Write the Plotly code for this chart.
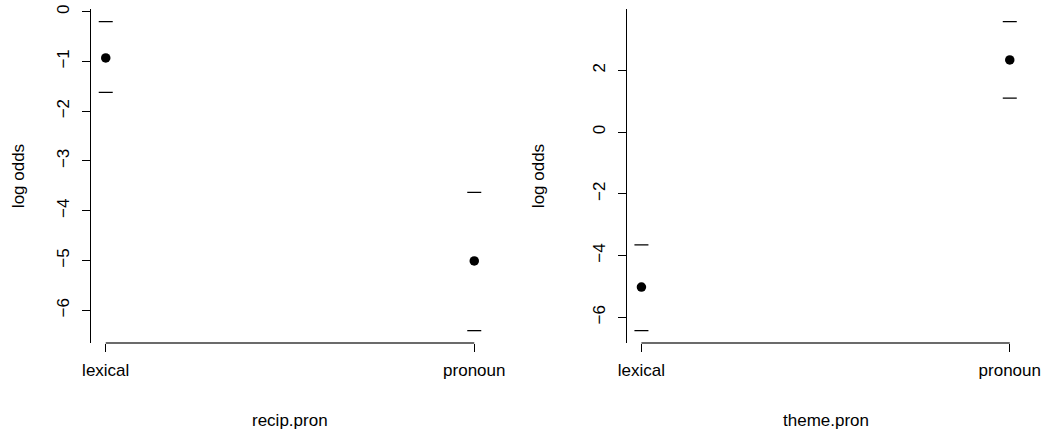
import plotly.graph_objects as go

# ---- data ----
levels = ["lexical", "pronoun"]
recip_fit = [-0.93, -5.01]
recip_lower = [-1.62, -6.41]
recip_upper = [-0.20, -3.63]
theme_fit = [-5.02, 2.34]
theme_lower = [-6.43, 1.10]
theme_upper = [-3.65, 3.58]
recip_ticks = [0, -1, -2, -3, -4, -5, -6]
theme_ticks = [2, 0, -2, -4, -6]
x_titles = ["recip.pron", "theme.pron"]
y_title = "log odds"

W, H = 1048, 435
FONT = "Liberation Sans, Arial, Helvetica, sans-serif"
FS = 17

xpos = list(range(1, len(levels) + 1))

panels = [
    dict(fit=recip_fit, lo=recip_lower, hi=recip_upper, ticks=recip_ticks,
         xdom=[91 / W, 489 / W], xt=x_titles[0], ytx=18),
    dict(fit=theme_fit, lo=theme_lower, hi=theme_upper, ticks=theme_ticks,
         xdom=[626.7 / W, 1024.5 / W], xt=x_titles[1], ytx=538),
]
ydom = [(H - 343) / H, (H - 9.3) / H]

fig = go.Figure()
layout = dict(
    width=W, height=H, margin=dict(l=0, r=0, t=0, b=0, autoexpand=False),
    paper_bgcolor="white", plot_bgcolor="white", showlegend=False,
    font=dict(family=FONT, size=FS, color="black"),
    shapes=[], annotations=[],
)

for i, p in enumerate(panels, start=1):
    xa = "x" if i == 1 else f"x{i}"
    ya = "y" if i == 1 else f"y{i}"
    # caps (upper and lower)
    fig.add_trace(go.Scatter(
        x=xpos + xpos, y=p["hi"] + p["lo"], mode="markers",
        marker=dict(symbol="line-ew", size=10, line=dict(color="black", width=1.3)),
        xaxis=xa, yaxis=ya, hoverinfo="skip"))
    # fitted points
    fig.add_trace(go.Scatter(
        x=xpos, y=p["fit"], mode="markers",
        marker=dict(symbol="circle", size=9.5, color="black"),
        xaxis=xa, yaxis=ya))
    lo = min(p["lo"])
    hi = max(p["hi"])
    pad = 0.04 * (hi - lo)
    xpad = 0.04 * (len(levels) - 1)
    layout["xaxis" if i == 1 else f"xaxis{i}"] = dict(
        domain=p["xdom"], anchor=ya, range=[1 - xpad, len(levels) + xpad],
        tickvals=xpos, ticktext=levels, ticks="outside", ticklen=8,
        tickwidth=1, tickcolor="black", showline=False, showgrid=False,
        zeroline=False, ticklabelstandoff=4, automargin=False)
    layout["yaxis" if i == 1 else f"yaxis{i}"] = dict(
        domain=ydom, anchor=xa, range=[lo - pad, hi + pad],
        tickvals=p["ticks"], ticks="outside", ticklen=8, tickwidth=1,
        tickcolor="black", showline=True, linecolor="black", linewidth=1,
        tickangle=-90, showgrid=False, zeroline=False, ticklabelstandoff=6,
        automargin=False)
    layout["shapes"].append(dict(
        type="line", xref=xa, yref=f"{ya} domain", x0=xpos[0], x1=xpos[-1],
        y0=0, y1=0, line=dict(color="#3a3a3a", width=1.3)))
    layout["annotations"].append(dict(
        text=p["xt"], xref="paper", yref="paper",
        x=(p["xdom"][0] + p["xdom"][1]) / 2, y=(H - 420) / H,
        xanchor="center", yanchor="middle", showarrow=False))
    layout["annotations"].append(dict(
        text=y_title, xref="paper", yref="paper", textangle=-90,
        x=p["ytx"] / W, y=(ydom[0] + ydom[1]) / 2,
        xanchor="center", yanchor="middle", showarrow=False))

fig.update_layout(**layout)
fig.write_html("out.html")
